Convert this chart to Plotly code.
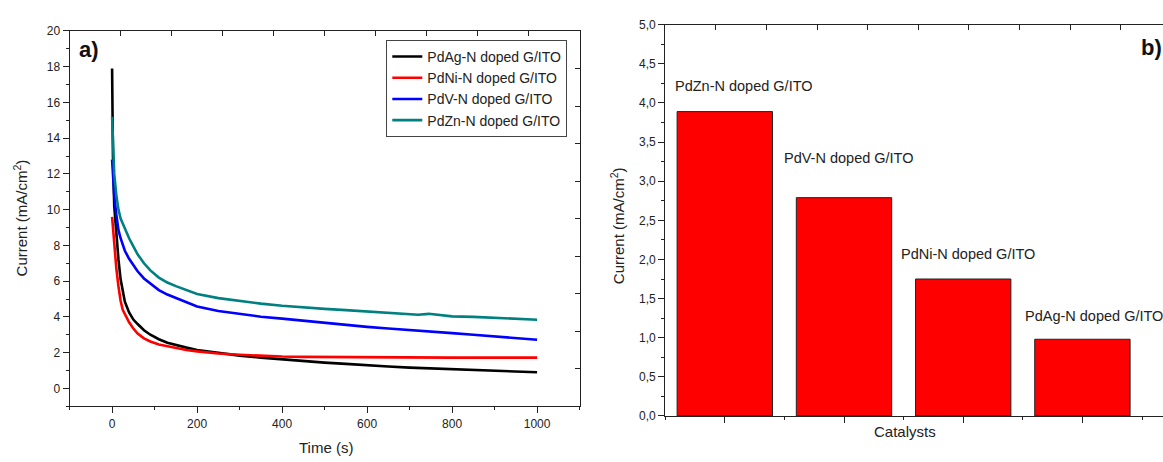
import plotly.graph_objects as go

# ---------------- data: panel a (chronoamperometry) ----------------
series_names = ["PdAg-N doped G/ITO", "PdNi-N doped G/ITO", "PdV-N doped G/ITO", "PdZn-N doped G/ITO"]

time_common = [0, 2, 5, 10, 15, 20, 30, 40, 50, 60, 75, 90, 110, 130, 150, 175, 200,
               250, 300, 350, 400, 450, 500, 550, 600, 650, 700, 750, 800, 850, 900, 950, 1000]

cur_pdag = [17.9, 13.0, 10.2, 8.5, 7.2, 6.1, 4.85, 4.25, 3.85, 3.6, 3.25, 3.0, 2.75, 2.55, 2.42, 2.28, 2.15,
            1.98, 1.83, 1.72, 1.62, 1.52, 1.44, 1.37, 1.28, 1.22, 1.16, 1.11, 1.07, 1.02, 0.98, 0.94, 0.90]

time_pdni = [0, 5, 10, 15, 20, 25, 30, 40, 50, 60, 75, 90, 110, 130, 150, 175, 200,
             250, 300, 350, 400, 450, 500, 550, 600, 650, 700, 750, 800, 850, 900, 950, 1000]
cur_pdni = [9.6, 8.0, 6.7, 5.7, 4.9, 4.4, 4.15, 3.7, 3.35, 3.07, 2.8, 2.62, 2.45, 2.35, 2.25, 2.15, 2.07,
            1.95, 1.88, 1.82, 1.78, 1.76, 1.75, 1.74, 1.72, 1.71, 1.71, 1.71, 1.72, 1.72, 1.72, 1.73, 1.72]

cur_pdv = [12.8, 11.8, 10.8, 9.7, 8.85, 8.4, 7.7, 7.25, 6.9, 6.55, 6.15, 5.85, 5.5, 5.25, 5.05, 4.82, 4.58,
           4.33, 4.15, 4.01, 3.9, 3.78, 3.65, 3.55, 3.44, 3.35, 3.25, 3.17, 3.09, 3.0, 2.92, 2.82, 2.72]

time_pdzn = [0, 2, 5, 10, 15, 20, 30, 40, 50, 60, 75, 90, 110, 130, 150, 175, 200,
             250, 300, 350, 400, 450, 500, 550, 600, 650, 700, 720, 745, 770, 800, 850, 900, 950, 1000]
cur_pdzn = [15.2, 13.5, 12.0, 10.8, 10.0, 9.5, 8.9, 8.4, 7.95, 7.5, 7.0, 6.6, 6.2, 5.92, 5.72, 5.5, 5.28,
            5.05, 4.88, 4.74, 4.62, 4.52, 4.45, 4.38, 4.3, 4.23, 4.16, 4.12, 4.17, 4.1, 4.03, 4.0, 3.95, 3.9, 3.84]

# ---------------- data: panel b (bars) ----------------
catalysts = ["PdZn-N doped G/ITO", "PdV-N doped G/ITO", "PdNi-N doped G/ITO", "PdAg-N doped G/ITO"]
bar_current = [3.89, 2.79, 1.75, 0.98]

# ---------------- style ----------------
FONT = "Liberation Sans, Arial, sans-serif"
W, H = 1163, 462
colors = ["#000000", "#ff0000", "#0000ff", "#008080"]
TXT = "#222222"

def px_x(p):
    return p / W

def px_y(p):
    return 1 - p / H

fig = go.Figure()

series = [(time_common, cur_pdag), (time_pdni, cur_pdni), (time_common, cur_pdv), (time_pdzn, cur_pdzn)]
for name, (t, c), col in zip(series_names, series, colors):
    fig.add_trace(go.Scatter(x=t, y=c, mode="lines", name=name,
                             line=dict(color=col, width=2.6), xaxis="x", yaxis="y"))

# dummy traces so the overlay (mirror-tick) axes get drawn
fig.add_trace(go.Scatter(x=[None], y=[None], xaxis="x3", yaxis="y3", showlegend=False, hoverinfo="skip"))
fig.add_trace(go.Scatter(x=[None], y=[None], xaxis="x4", yaxis="y2", showlegend=False, hoverinfo="skip"))

fig.add_trace(go.Bar(x=[1, 2, 3, 4], y=bar_current, width=0.8, xaxis="x2", yaxis="y2",
                     marker=dict(color="#ff0000", line=dict(color="#222222", width=1)),
                     showlegend=False))

axis_common = dict(showline=True, linecolor=TXT, linewidth=1, showgrid=False, zeroline=False,
                   tickcolor=TXT, tickfont=dict(family=FONT, size=12, color=TXT))

# left panel geometry (pixels)
la_x0, la_x1, la_top, la_bot = 69.6, 579.6, 24.7, 411.7
# right panel geometry (pixels)
rb_x0, rb_top, rb_bot = 665.2, 18.3, 421.7
rb_range = [0.5, 0.5 + (W - rb_x0) / 119.2]

fig.update_layout(
    width=W, height=H, margin=dict(l=0, r=0, t=0, b=0),
    paper_bgcolor="white", plot_bgcolor="white",
    separators=",.",
    font=dict(family=FONT, size=12, color=TXT),
    xaxis=dict(domain=[px_x(la_x0), px_x(la_x1)], range=[-100, 1100], anchor="y",
               mirror=True, ticks="outside", ticklen=6, tick0=0, dtick=200,
               minor=dict(ticks="outside", ticklen=3, dtick=100, tick0=0, tickcolor=TXT),
               **axis_common),
    yaxis=dict(domain=[px_y(la_bot), px_y(la_top)], range=[-1, 20], anchor="x",
               mirror=True, ticks="outside", ticklen=6, tick0=0, dtick=2,
               minor=dict(ticks="outside", ticklen=3, dtick=1, tick0=0, tickcolor=TXT),
               **axis_common),
    xaxis3=dict(overlaying="x", side="top", anchor="y3", range=[-100, 1100], showgrid=False,
                zeroline=False, showline=False, ticks="inside", ticklen=5, tickcolor=TXT,
                tick0=-100, dtick=120, showticklabels=False),
    yaxis3=dict(overlaying="y", side="right", anchor="x3", range=[-1, 20], showgrid=False,
                zeroline=False, showline=False, ticks="inside", ticklen=5, tickcolor=TXT,
                tick0=-1, dtick=2.1, showticklabels=False),
    xaxis2=dict(domain=[px_x(rb_x0), 1.0], range=rb_range, anchor="y2",
                mirror=True, ticks="outside", ticklen=6, tick0=1, dtick=1, showticklabels=False,
                minor=dict(ticks="outside", ticklen=3, tick0=0.5, dtick=1, tickcolor=TXT),
                **axis_common),
    yaxis2=dict(domain=[px_y(rb_bot), px_y(rb_top)], range=[0, 5], anchor="x2",
                mirror=False, ticks="outside", ticklen=6, tick0=0, dtick=0.5, tickformat=".1f",
                minor=dict(ticks="outside", ticklen=3, dtick=0.25, tick0=0, tickcolor=TXT),
                **axis_common),
    xaxis4=dict(overlaying="x2", side="top", anchor="y2", range=rb_range, showgrid=False,
                zeroline=False, showline=False, ticks="inside", ticklen=5, tickcolor=TXT,
                tick0=0.5, dtick=0.4245, showticklabels=False),
    legend=dict(x=px_x(386.3), y=px_y(34), xanchor="left", yanchor="top",
                bordercolor="#444", borderwidth=1, bgcolor="white",
                font=dict(family=FONT, size=14, color=TXT), tracegroupgap=0,
                itemwidth=30),
    showlegend=True,
)

ann = []
title_font = dict(family=FONT, size=15, color=TXT)
ann.append(dict(text="Time (s)", x=px_x(326.4), y=px_y(454), xref="paper", yref="paper",
                showarrow=False, font=title_font, xanchor="center", yanchor="middle"))
ann.append(dict(text="Current (mA/cm<sup>2</sup>)", x=px_x(20), y=px_y(218), xref="paper", yref="paper",
                textangle=-90, showarrow=False, font=title_font, xanchor="center", yanchor="middle"))
ann.append(dict(text="Catalysts", x=px_x(905), y=px_y(437.5), xref="paper", yref="paper",
                showarrow=False, font=title_font, xanchor="center", yanchor="middle"))
ann.append(dict(text="Current (mA/cm<sup>2</sup>)", x=px_x(617), y=px_y(226), xref="paper", yref="paper",
                textangle=-90, showarrow=False, font=title_font, xanchor="center", yanchor="middle"))
# panel letters
ann.append(dict(text="<b>a)</b>", x=px_x(89), y=px_y(44), xref="paper", yref="paper",
                showarrow=False, font=dict(family=FONT, size=22, color="#111"), xanchor="center", yanchor="middle"))
ann.append(dict(text="<b>b)</b>", x=px_x(1151), y=px_y(41.5), xref="paper", yref="paper",
                showarrow=False, font=dict(family=FONT, size=22, color="#111"), xanchor="center", yanchor="middle"))

# bar labels (positions in bar/axis units)
label_x = [0.562, 1.479, 2.464, 3.499]
label_y = [4.22, 3.3, 2.07, 1.28]
for name, lx, ly in zip(catalysts, label_x, label_y):
    ann.append(dict(text=name, x=lx, y=ly, xref="x2", yref="y2", showarrow=False,
                    xanchor="left", yanchor="middle", font=dict(family=FONT, size=14.5, color=TXT)))

fig.update_layout(annotations=ann)

fig.write_html("out.html", config={"displayModeBar": False},
               post_script="document.body.style.margin='0px';document.body.style.overflow='hidden';")
